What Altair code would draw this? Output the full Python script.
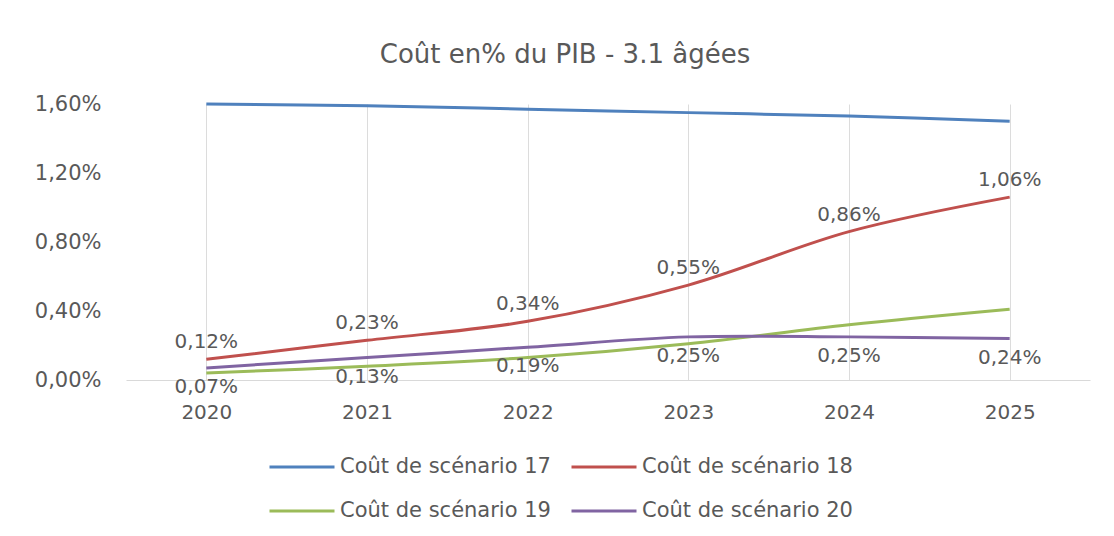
import altair as alt
import pandas as pd

years = ["2020", "2021", "2022", "2023", "2024", "2025"]
s17 = [1.60, 1.59, 1.57, 1.55, 1.53, 1.50]
s18 = [0.12, 0.23, 0.34, 0.55, 0.86, 1.06]
s19 = [0.04, 0.08, 0.13, 0.21, 0.32, 0.41]
s20 = [0.07, 0.13, 0.19, 0.25, 0.25, 0.24]
series_names = ["Coût de scénario 17", "Coût de scénario 18",
                "Coût de scénario 19", "Coût de scénario 20"]
colors = ["#4F81BD", "#C0504D", "#9BBB59", "#8064A2"]
title_text = "Coût en% du PIB - 3.1 âgées"
y_ticks = [0, 0.4, 0.8, 1.2, 1.6]

rows = []
for name, vals in zip(series_names, [s17, s18, s19, s20]):
    for y, v in zip(years, vals):
        rows.append({"year": y, "value": v, "series": name})
df = pd.DataFrame(rows)

FONT = "DejaVu Sans"
GRAY = "#595959"

x_enc = alt.X("year:O", scale=alt.Scale(type="point", padding=0.5),
              axis=alt.Axis(title=None, labelAngle=0, labelFontSize=20, labelPadding=22,
                            labelColor=GRAY, labelFont=FONT, ticks=False,
                            domainColor="#d9d9d9", grid=True, gridColor="#dcdcdc"))
y_enc = alt.Y("value:Q", scale=alt.Scale(domain=[0, 1.6], nice=False),
              axis=alt.Axis(title=None, values=y_ticks, grid=False, domain=False, ticks=False,
                            labelFontSize=21, labelPadding=25, labelColor=GRAY, labelFont=FONT,
                            labelExpr="replace(format(datum.value, '.2f'), '.', ',') + '%'"))

base = alt.Chart(df)

lines = base.mark_line(strokeWidth=3, interpolate="catmull-rom").encode(
    x=x_enc, y=y_enc,
    color=alt.Color("series:N", scale=alt.Scale(domain=series_names, range=colors),
                    legend=alt.Legend(title=None, orient="none", legendX=142, legendY=329,
                                      direction="horizontal",
                                      columns=2, symbolType="stroke", symbolSize=4225,
                                      symbolStrokeWidth=3, labelFontSize=21, labelColor=GRAY,
                                      labelFont=FONT, columnPadding=14, rowPadding=-22,
                                      labelLimit=400, symbolOffset=0, labelOffset=4)),
)

lab = base.transform_calculate(
    label="replace(format(datum.value, '.2f'), '.', ',') + '%'"
)

red_labels = lab.transform_filter(alt.datum.series == series_names[1]).mark_text(
    dy=-17, fontSize=20, color=GRAY, font=FONT
).encode(x="year:O", y="value:Q", text="label:N")

purple_labels = lab.transform_filter(alt.datum.series == series_names[3]).mark_text(
    dy=19, fontSize=20, color=GRAY, font=FONT
).encode(x="year:O", y="value:Q", text="label:N")

chart = alt.layer(lines, red_labels, purple_labels).properties(
    width=964, height=276,
    title=alt.TitleParams(title_text, anchor="middle", dx=-43, offset=25, fontSize=26,
                          color=GRAY, font=FONT, fontWeight="normal"),
    autosize=alt.AutoSizeParams(type="none"),
    padding={"left": 118, "top": 96, "right": 16, "bottom": 156},
).configure_view(stroke=None)

chart.save("out.html", embed_options={"renderer": "svg", "actions": False})
